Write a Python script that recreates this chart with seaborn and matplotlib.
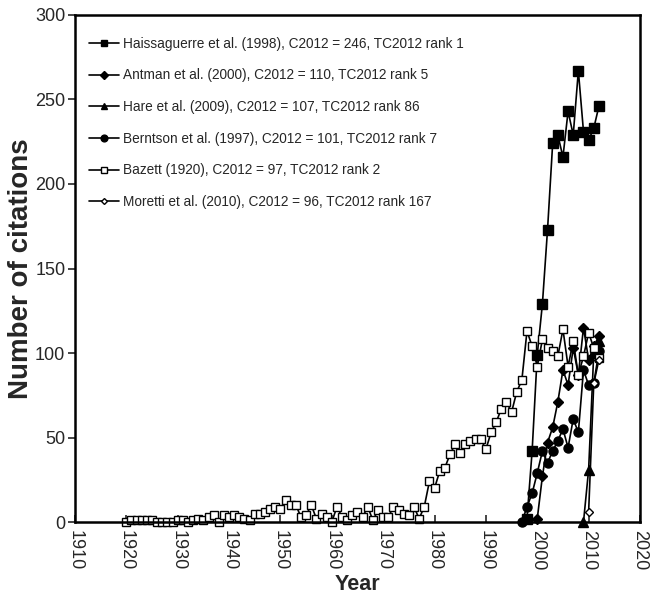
import matplotlib
matplotlib.use("Agg")
import matplotlib.pyplot as plt
import seaborn as sns
import pandas as pd

# citations per year
haiss_years = list(range(1998, 2013))
haiss_cites = [2, 42, 99, 129, 173, 224, 229, 216, 243, 229, 267, 231, 226, 233, 246]

antman_years = list(range(2000, 2013))
antman_cites = [2, 27, 47, 56, 71, 90, 81, 103, 87, 115, 96, 104, 110]

hare_years = [2009, 2010, 2011, 2012]
hare_cites = [0, 31, 100, 107]

berntson_years = list(range(1997, 2013))
berntson_cites = [0, 9, 17, 29, 42, 35, 42, 48, 55, 44, 61, 53, 90, 81, 82, 101]

bazett_years = list(range(1920, 2013))
bazett_cites = [
    0, 1, 1, 1, 1, 1, 0, 0, 0, 0,       # 1920s
    1, 1, 0, 1, 2, 1, 3, 4, 0, 4,       # 1930s
    3, 4, 3, 2, 1, 5, 5, 6, 8, 9,       # 1940s
    8, 13, 10, 10, 3, 4, 10, 2, 5, 3,   # 1950s
    0, 9, 3, 1, 4, 6, 3, 9, 1, 7,       # 1960s
    3, 3, 9, 7, 5, 4, 9, 2, 9, 24,      # 1970s
    20, 30, 32, 40, 46, 41, 46, 48, 49, 49,   # 1980s
    43, 53, 59, 67, 71, 65, 77, 84, 113, 104,  # 1990s
    92, 108, 103, 101, 98, 114, 92, 107, 87, 98,  # 2000s
    112, 103, 97,
]

moretti_years = [2010, 2011, 2012]
moretti_cites = [6, 82, 96]

labels = [
    "Haissaguerre et al. (1998), C2012 = 246, TC2012 rank 1",
    "Antman et al. (2000), C2012 = 110, TC2012 rank 5",
    "Hare et al. (2009), C2012 = 107, TC2012 rank 86",
    "Berntson et al. (1997), C2012 = 101, TC2012 rank 7",
    "Bazett (1920), C2012 = 97, TC2012 rank 2",
    "Moretti et al. (2010), C2012 = 96, TC2012 rank 167",
]

series = [
    (haiss_years, haiss_cites, "s", 6.5, "black"),
    (antman_years, antman_cites, "D", 5, "black"),
    (hare_years, hare_cites, "^", 6.5, "black"),
    (berntson_years, berntson_cites, "o", 6.5, "black"),
    (bazett_years, bazett_cites, "s", 6, "white"),
    (moretti_years, moretti_cites, "D", 4, "white"),
]

sns.set_style("ticks")
plt.rcParams["font.family"] = ["Liberation Sans", "DejaVu Sans"]

fig = plt.figure(figsize=(6.56, 5.99), dpi=100)
ax = fig.add_axes([0.1143, 0.1285, 0.8613, 0.8465])

for (yrs, vals, mk, ms, face), lab in zip(series, labels):
    df = pd.DataFrame({"year": yrs, "cites": vals})
    sns.lineplot(data=df, x="year", y="cites", ax=ax, color="black",
                 marker=mk, markersize=ms, markerfacecolor=face,
                 markeredgecolor="black", markeredgewidth=1.0,
                 linewidth=1.2, label=lab, estimator=None, sort=False,
                 clip_on=False)

ax.set_xlim(1910, 2020)
ax.set_ylim(0, 300)
ax.set_xticks(range(1910, 2021, 10))
ax.set_yticks(range(0, 301, 50))
ax.tick_params(axis="x", direction="in", length=5, width=1.2,
               labelsize=13, labelrotation=270, pad=6)
ax.tick_params(axis="y", direction="out", length=5, width=1.2,
               labelsize=13, pad=2)
for sp in ax.spines.values():
    sp.set_visible(True)
    sp.set_linewidth(1.8)
    sp.set_color("black")

ax.set_xlabel("Year", fontsize=15.5, fontweight="bold", labelpad=2)
ax.set_ylabel("Number of citations", fontsize=20, fontweight="bold", labelpad=1)

ax.legend(loc="upper left", bbox_to_anchor=(0.0, 0.984), frameon=False,
          fontsize=9.8, handlelength=2.2, handletextpad=0.3,
          labelspacing=1.3, borderaxespad=0.6, markerscale=0.75)

fig.savefig("out.png", dpi=100)
